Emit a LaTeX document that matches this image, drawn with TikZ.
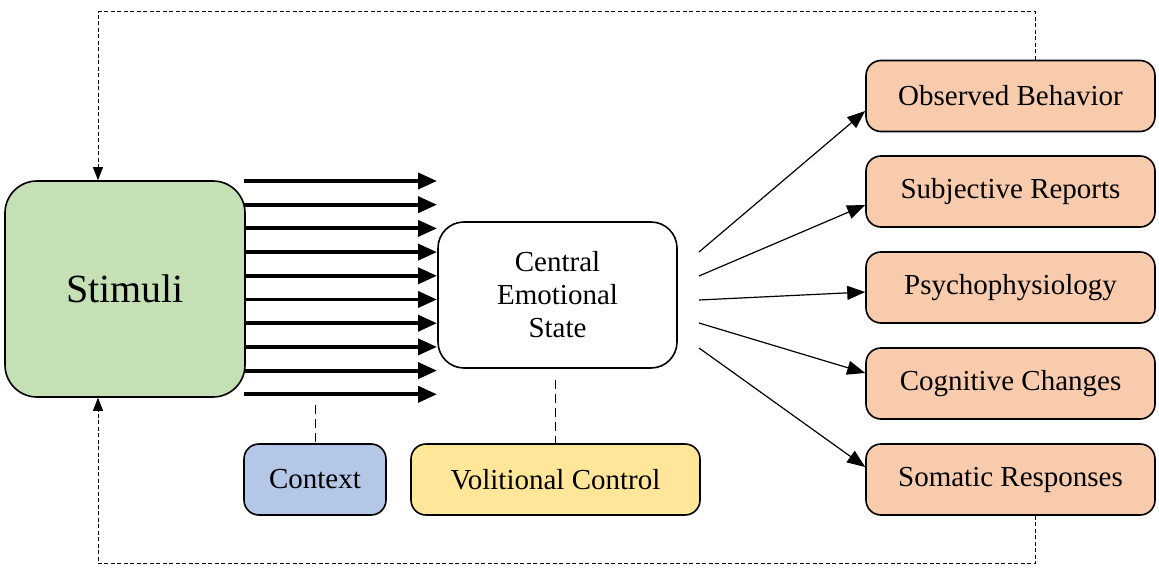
\documentclass[tikz,border=0pt]{standalone}
\usepackage{fontspec}
\setmainfont{Liberation Serif}
\usepackage{xcolor}
\usetikzlibrary{arrows.meta,positioning}

\definecolor{stimgreen}{HTML}{C5E0B4}
\definecolor{outpeach}{HTML}{F8CBAD}
\definecolor{ctxblue}{HTML}{B4C7E7}
\definecolor{volyellow}{HTML}{FFE699}

\begin{document}
\begin{tikzpicture}[x=1pt,y=-1pt,
	base/.style={draw,line width=1.6pt,rounded corners=15pt,align=center,inner sep=0pt,
		font=\fontsize{29}{33}\selectfont},
	outbox/.style={base,fill=outpeach,minimum width=289pt,minimum height=71pt},
	fatarrow/.style={line width=3.8pt,-{Triangle[length=19pt,width=16pt]}},
	thinarrow/.style={line width=1.2pt,-{Triangle[length=18pt,width=14pt]}},
	dashlink/.style={line width=1pt,dash pattern=on 9pt off 5pt},
	feedback/.style={line width=1pt,dash pattern=on 4pt off 2.5pt,-{Triangle[length=13pt,width=10pt]}}]
	\useasboundingbox (0,0) rectangle (1159,572);
	%
	\node[base,fill=stimgreen,minimum width=240pt,minimum height=216pt,rounded corners=32pt,
		font=\fontsize{40}{48}\selectfont] (stim) at (125,289) {Stimuli};
	\node[base,fill=white,minimum width=239pt,minimum height=146pt,rounded corners=26pt] (central) at (557.5,295)
		{Central\\Emotional\\State};
	\node[base,fill=ctxblue,minimum width=142pt,minimum height=71pt] (context) at (315,479.5) {Context};
	\node[base,fill=volyellow,minimum width=289pt,minimum height=71pt] (volit) at (555.5,479.5) {Volitional Control};
	%
	\node[outbox] (obs) at (1010.5,96) {Observed Behavior};
	\node[outbox] (subj) at (1010.5,191.5) {Subjective Reports};
	\node[outbox] (psych) at (1010.5,287.5) {Psychophysiology};
	\node[outbox] (cogn) at (1010.5,383.5) {Cognitive Changes};
	\node[outbox] (soma) at (1010.5,479.5) {Somatic Responses};
	%
	\foreach \i in {0,...,9}{
		\coordinate (s\i) at (244,{181+23.7*\i});
		\coordinate (e\i) at (437,{181+23.7*\i});
		\draw[fatarrow] (s\i) -- (e\i);
	}
	%
	\foreach \n/\y/\s in {obs/252/-15,subj/276/-13.5,psych/300/-4.5,cogn/323/10.5,soma/348/12.5}{
		\coordinate (f\n) at (699,\y);
		\draw[thinarrow] (f\n) -- ([yshift=\s pt]\n.west);
	}
	%
	\coordinate (ctop) at (315,405);
	\coordinate (vtop) at (555.5,380);
	\draw[dashlink] (ctop) -- (context.north);
	\draw[dashlink] (vtop) -- (volit.north);
	%
	\draw[feedback] ([xshift=24.5pt]obs.north) -- ++(0,-48) -| ([xshift=-27pt]stim.north);
	\draw[feedback] ([xshift=24.5pt]soma.south) -- ++(0,48) -| ([xshift=-27pt]stim.south);
\end{tikzpicture}
\end{document}
